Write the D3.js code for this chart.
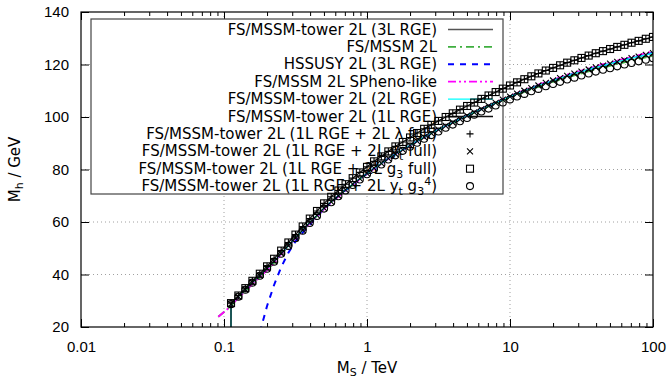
<!DOCTYPE html>
<html>
<head>
<meta charset='utf-8'>
<title>Mh vs MS</title>
<style>
	body {margin: 0; background: #fff}
	svg {font-family: "DejaVu Sans", sans-serif}
	.grid line {stroke: #a0a0a0; stroke-width: 1px; stroke-dasharray: 1,3}
	.tick text {font-size: 15px; fill: #000}
</style>
</head>
<body>
<script src='https://d3js.org/d3.v7.min.js'></script>
<script>

	// M_S grid in TeV (20 points per decade)
	var msGrid = [0.112, 0.126, 0.141, 0.158, 0.178, 0.200, 0.224, 0.251, 0.282, 0.316,
		0.355, 0.398, 0.447, 0.501, 0.562, 0.631, 0.708, 0.794, 0.891, 1.00,
		1.12, 1.26, 1.41, 1.58, 1.78, 2.00, 2.24, 2.51, 2.82, 3.16,
		3.55, 3.98, 4.47, 5.01, 5.62, 6.31, 7.08, 7.94, 8.91, 10.0,
		11.2, 12.6, 14.1, 15.8, 17.8, 20.0, 22.4, 25.1, 28.2, 31.6,
		35.5, 39.8, 44.7, 50.1, 56.2, 63.1, 70.8, 79.4, 89.1, 100];
	// fixed-order spectrum generators go a bit lower
	var msLowExtra = [0.0912, 0.100];

	// tower with 1L running (also + and square points)
	var mhUpper = [29.1, 32.0, 34.8, 37.6, 40.3, 43.1, 46.0, 49.1, 52.2, 55.2,
		58.3, 61.3, 64.2, 67.1, 69.6, 72.0, 74.4, 76.7, 78.9, 81.0,
		83.1, 85.0, 86.9, 88.8, 90.5, 92.2, 93.9, 95.5, 97.0, 98.5,
		100.0, 101.4, 102.8, 104.2, 105.5, 106.9, 108.2, 109.5, 110.8, 112.0,
		113.2, 114.4, 115.5, 116.6, 117.7, 118.7, 119.7, 120.7, 121.6, 122.5,
		123.4, 124.3, 125.1, 125.9, 126.7, 127.5, 128.3, 129.0, 129.8, 130.5];
	// tower with 2L/3L running (also x points)
	var mhLower = [28.8, 31.6, 34.3, 37.0, 39.6, 42.3, 45.0, 48.0, 51.0, 53.9,
		56.9, 59.8, 62.5, 65.3, 67.7, 70.0, 72.2, 74.4, 76.5, 78.5,
		80.5, 82.3, 84.2, 85.9, 87.6, 89.2, 90.8, 92.3, 93.8, 95.2,
		96.6, 97.9, 99.2, 100.5, 101.8, 103.0, 104.2, 105.4, 106.6, 107.8,
		108.9, 110.0, 111.0, 112.0, 113.0, 113.9, 114.8, 115.7, 116.5, 117.3,
		118.1, 118.9, 119.6, 120.3, 121.0, 121.7, 122.4, 123.0, 123.7, 124.3];
	// 1L RGE + 2L yt g3^4
	var mhCircle = [28.7, 31.5, 34.2, 36.9, 39.5, 42.2, 44.9, 47.9, 50.9, 53.8,
		56.7, 59.6, 62.3, 65.1, 67.5, 69.8, 72.0, 74.1, 76.2, 78.2,
		80.2, 81.9, 83.8, 85.4, 87.1, 88.7, 90.2, 91.7, 93.1, 94.5,
		95.9, 97.1, 98.4, 99.6, 100.9, 102.1, 103.2, 104.4, 105.5, 106.7,
		107.8, 108.8, 109.8, 110.7, 111.7, 112.6, 113.4, 114.3, 115.0, 115.8,
		116.6, 117.3, 118.0, 118.6, 119.3, 120.0, 120.6, 121.2, 121.8, 122.4];
	var mhBlue = [null, null, null, null, 18.0, 28.0, 36.0, 42.8, 48.3, 52.6,
		56.0, 59.0, 62.0, 65.0, 67.6, 69.9, 72.1, 74.3, 76.4, 78.4,
		80.4, 82.3, 84.2, 85.9, 87.6, 89.2, 90.8, 92.3, 93.8, 95.2,
		96.6, 97.9, 99.2, 100.5, 101.8, 103.0, 104.2, 105.4, 106.6, 107.8,
		108.9, 110.0, 111.0, 112.0, 113.0, 113.9, 114.8, 115.7, 116.6, 117.4,
		118.2, 119.0, 119.7, 120.4, 121.1, 121.8, 122.5, 123.2, 123.9, 124.5];
	// these two start at msLowExtra
	var mhGreen = [23.9, 25.7, 28.0, 31.2, 33.6, 36.4, 39.0, 41.7, 44.4, 47.7,
		50.9, 53.7, 56.7, 59.5, 62.1, 65.0, 67.4, 69.7, 71.9, 74.1,
		76.3, 78.3, 80.3, 82.1, 84.1, 85.8, 87.5, 89.1, 90.7, 92.3,
		93.8, 95.2, 96.6, 97.8, 99.1, 100.4, 101.6, 102.8, 104.0, 105.1,
		106.3, 107.5, 108.5, 109.6, 110.6, 111.5, 112.5, 113.4, 114.2, 115.1,
		115.9, 116.6, 117.4, 118.2, 118.8, 119.5, 120.2, 120.8, 121.5, 122.1,
		122.7, 123.3];
	var mhMagenta = [23.9, 25.7, 28.0, 31.2, 33.6, 36.4, 39.0, 41.7, 44.4, 47.7,
		50.9, 53.7, 56.7, 59.5, 62.1, 65.0, 67.4, 69.7, 71.9, 74.1,
		76.3, 78.3, 80.3, 82.1, 84.1, 85.8, 87.5, 89.1, 90.7, 92.3,
		93.8, 95.2, 96.6, 97.9, 99.3, 100.6, 101.9, 103.1, 104.3, 105.6,
		106.8, 108.0, 109.1, 110.2, 111.3, 112.3, 113.3, 114.2, 115.1, 116.1,
		116.9, 117.7, 118.5, 119.3, 120.1, 120.8, 121.5, 122.2, 122.9, 123.6,
		124.3, 124.9];
	// the tower curves fall off the plot at their first point
	var msDrop = 0.1118;
	var mhDrop = 10;

	var xMajor = [0.01, 0.1, 1, 10, 100];
	var xLabels = ["0.01", "0.1", "1", "10", "100"];
	var yTicks = [20, 40, 60, 80, 100, 120, 140];

	var seriesNames = [
		"FS/MSSM-tower 2L (3L RGE)",
		"FS/MSSM 2L",
		"HSSUSY 2L (3L RGE)",
		"FS/MSSM 2L SPheno-like",
		"FS/MSSM-tower 2L (2L RGE)",
		"FS/MSSM-tower 2L (1L RGE)",
		"FS/MSSM-tower 2L (1L RGE + 2L λ full)",
		"FS/MSSM-tower 2L (1L RGE + 2L y_t full)",
		"FS/MSSM-tower 2L (1L RGE + 2L g_3 full)",
		"FS/MSSM-tower 2L (1L RGE + 2L y_t g_3^4)"
	];

	var W = 671, H = 381;
	var pL = 81, pR = 653, pT = 12, pB = 327;

	var x = d3.scaleLog().domain([0.01, 100]).range([pL, pR]);
	var y = d3.scaleLinear().domain([20, 140]).range([pB, pT]);

	function pairs(ms, mh) {
		var out = [];
		for (var i = 0; i < ms.length; i++) out.push({ms: ms[i], mh: mh[i]});
		return out;
	}
	var towerLower = [{ms: msDrop, mh: mhDrop}].concat(pairs(msGrid, mhLower));
	var towerUpper = [{ms: msDrop, mh: mhDrop}].concat(pairs(msGrid, mhUpper));
	var msFO = msLowExtra.concat(msGrid);

	// line series, in drawing order
	var lines = [
		{data: towerLower, color: "#555555", dash: null, w: 1.3},
		{data: pairs(msFO, mhGreen), color: "#3fae3f", dash: "8,4,2,4", w: 1.8},
		{data: pairs(msGrid, mhBlue), color: "#0000ff", dash: "6,6", w: 2},
		{data: pairs(msFO, mhMagenta), color: "#ff00ff", dash: "8,3,2,3,2,3", w: 1.8},
		{data: towerLower, color: "#00ffff", dash: null, w: 1.3},
		{data: towerUpper, color: "#111111", dash: null, w: 1.3}
	];
	var points = [
		{data: pairs(msGrid, mhUpper), shape: "plus"},
		{data: pairs(msGrid, mhLower), shape: "cross"},
		{data: pairs(msGrid, mhUpper), shape: "square"},
		{data: pairs(msGrid, mhCircle), shape: "circle"}
	];

	var svg = d3.select('body').append('svg').attr('width', W).attr('height', H);

	svg.append("clipPath").attr("id", "plotclip")
		.append("rect").attr("x", pL).attr("y", pT)
		.attr("width", pR - pL).attr("height", pB - pT);

	// grid
	var grid = svg.append("g").attr("class", "grid");
	grid.selectAll(".gx").data([0.1, 1, 10]).enter().append("line")
		.attr("x1", function(d) { return x(d); }).attr("x2", function(d) { return x(d); })
		.attr("y1", pT).attr("y2", pB);
	grid.selectAll(".gy").data([40, 60, 80, 100, 120]).enter().append("line")
		.attr("x1", pL).attr("x2", pR)
		.attr("y1", function(d) { return y(d); }).attr("y2", function(d) { return y(d); });

	// axes
	var xMinor = [];
	for (var dec = 0.01; dec < 100; dec *= 10)
		for (var k = 2; k <= 9; k++) xMinor.push(dec * k);

	function styleAxis(g) {
		g.select(".domain").remove();
		g.selectAll(".tick line").attr("stroke", "#000");
	}
	svg.append("g").attr("transform", "translate(0," + pB + ")")
		.call(d3.axisBottom(x).tickValues(xMajor).tickSize(-8).tickPadding(14)
			.tickFormat(function(d, i) { return xLabels[i]; }))
		.call(styleAxis);
	svg.append("g").attr("transform", "translate(0," + pB + ")")
		.call(d3.axisBottom(x).tickValues(xMinor).tickSize(-4).tickFormat(""))
		.call(styleAxis);
	svg.append("g").attr("transform", "translate(0," + pT + ")")
		.call(d3.axisTop(x).tickValues(xMajor).tickSize(-8).tickFormat(""))
		.call(styleAxis);
	svg.append("g").attr("transform", "translate(0," + pT + ")")
		.call(d3.axisTop(x).tickValues(xMinor).tickSize(-4).tickFormat(""))
		.call(styleAxis);
	svg.append("g").attr("transform", "translate(" + pL + ",0)")
		.call(d3.axisLeft(y).tickValues(yTicks).tickSize(-8).tickPadding(12))
		.call(styleAxis);
	svg.append("g").attr("transform", "translate(" + pR + ",0)")
		.call(d3.axisRight(y).tickValues(yTicks).tickSize(-8).tickFormat(""))
		.call(styleAxis);

	// text with _x subscripts and ^x superscripts
	function richText(sel, str, small, subShift) {
		var off = 0, i = 0;
		while (i < str.length) {
			var c = str[i];
			if ((c === "_" || c === "^") && i + 1 < str.length) {
				var shift = c === "_" ? subShift : -6;
				sel.append("tspan").text(str[i + 1]).attr("font-size", small)
					.attr("dy", shift - off);
				off = shift;
				i += 2;
			} else {
				var start = i;
				while (i < str.length && str[i] !== "_" && str[i] !== "^") i++;
				var t = sel.append("tspan").text(str.slice(start, i));
				if (off !== 0) { t.attr("dy", -off); off = 0; }
			}
		}
	}

	// axis labels
	var xl = svg.append("text").attr("x", (pL + pR) / 2).attr("y", 373)
		.attr("text-anchor", "middle").attr("font-size", 15);
	richText(xl, "M_S / TeV", 11, 3);
	var yl = svg.append("text").attr("transform", "translate(20," + ((pT + pB) / 2) + ") rotate(-90)")
		.attr("text-anchor", "middle").attr("font-size", 15);
	richText(yl, "M_h / GeV", 11, 3);

	// legend (opaque box, curves drawn over it)
	var legX0 = 91, legY0 = 19, legX1 = 503, legY1 = 194;
	var rowY0 = 29.5, rowStep = 17.4;
	var leg = svg.append("g");
	leg.append("rect").attr("x", legX0).attr("y", legY0)
		.attr("width", legX1 - legX0).attr("height", legY1 - legY0)
		.attr("fill", "#fff").attr("stroke", "#444").attr("stroke-width", 1.2);
	seriesNames.forEach(function(nm, i) {
		var t = leg.append("text").attr("x", 437).attr("y", rowY0 + i * rowStep + 5)
			.attr("text-anchor", "end").attr("font-size", 15);
		richText(t, nm, 11, 4);
	});

	function marker(g, shape, cx, cy) {
		if (shape === "square") {
			g.append("rect").attr("x", cx - 3.5).attr("y", cy - 3.5).attr("width", 7).attr("height", 7)
				.attr("fill", "none").attr("stroke", "#000").attr("stroke-width", 1.1);
		} else if (shape === "circle") {
			g.append("circle").attr("cx", cx).attr("cy", cy).attr("r", 3.5)
				.attr("fill", "none").attr("stroke", "#000").attr("stroke-width", 1.1);
		} else if (shape === "plus") {
			g.append("path").attr("d", "M" + (cx - 3.5) + "," + cy + "H" + (cx + 3.5) + "M" + cx + "," + (cy - 3.5) + "V" + (cy + 3.5))
				.attr("stroke", "#000").attr("stroke-width", 1.1);
		} else {
			g.append("path").attr("d", "M" + (cx - 3) + "," + (cy - 3) + "L" + (cx + 3) + "," + (cy + 3) + "M" + (cx - 3) + "," + (cy + 3) + "L" + (cx + 3) + "," + (cy - 3))
				.attr("stroke", "#000").attr("stroke-width", 1.1);
		}
	}

	lines.forEach(function(s, i) {
		var yy = rowY0 + i * rowStep;
		leg.append("line").attr("x1", 448).attr("x2", 493).attr("y1", yy).attr("y2", yy)
			.attr("stroke", s.color).attr("stroke-width", s.w)
			.attr("stroke-dasharray", s.dash);
	});
	points.forEach(function(p, j) {
		marker(leg, p.shape, 470, rowY0 + (lines.length + j) * rowStep);
	});

	// curves
	var plot = svg.append("g").attr("clip-path", "url(#plotclip)");
	var lineGen = d3.line()
		.defined(function(d) { return d.mh !== null; })
		.x(function(d) { return x(d.ms); })
		.y(function(d) { return y(d.mh); });
	lines.forEach(function(s) {
		plot.append("path").datum(s.data).attr("d", lineGen)
			.attr("fill", "none").attr("stroke", s.color).attr("stroke-width", s.w)
			.attr("stroke-dasharray", s.dash);
	});
	points.forEach(function(p) {
		var g = plot.append("g");
		p.data.forEach(function(d) { marker(g, p.shape, x(d.ms), y(d.mh)); });
	});

	// frame
	svg.append("rect").attr("x", pL).attr("y", pT)
		.attr("width", pR - pL).attr("height", pB - pT)
		.attr("fill", "none").attr("stroke", "#000").attr("stroke-width", 1.2);

</script>
</body>
</html>
